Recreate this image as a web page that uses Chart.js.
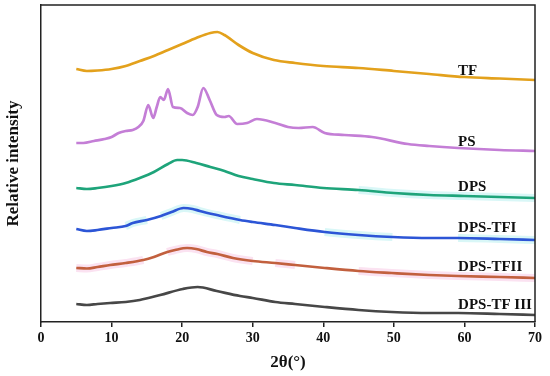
<!DOCTYPE html>
<html>
<head>
<meta charset="utf-8">
<script src="https://cdn.jsdelivr.net/npm/chart.js@4.4.1/dist/chart.umd.min.js"></script>
<style>
  html, body { margin: 0; padding: 0; background: #fff; }
  #wrap { width: 550px; height: 376px; }
</style>
</head>
<body>
<div id="wrap"><canvas id="xrd"></canvas></div>
<script>
// 2θ (deg) and relative intensity (stacked, arbitrary units)
const tfX   = [5, 6.5, 8, 10, 12, 14, 16, 18, 20, 22, 24, 25, 26, 28, 30, 33, 36, 40, 45, 50, 55, 60, 65, 70];
const tfY   = [253, 251, 251.5, 253, 256, 261, 266, 272, 278, 284, 289, 290, 287, 277, 269, 262, 259, 256, 254, 251, 248, 245, 243.5, 242];

const psX   = [5, 6, 7.5, 9, 10, 11, 12, 13, 13.8, 14.5, 15.2, 15.9, 16.4, 16.9, 17.4, 18.0, 18.7, 19.7, 20.7, 21.5, 22.2, 23.0, 23.9, 24.9, 26.0, 26.6, 27.8, 29.2, 30.6, 33.2, 35, 36.5, 38.5, 40.2, 43, 46.9, 52, 55, 59.1, 65, 70];
const psY   = [179, 179, 181, 183, 185, 189, 191, 192, 195, 201, 217, 204, 215, 225, 222, 233, 215, 214, 209, 207, 215, 234, 222, 207, 205, 206, 198, 199, 203, 199, 195, 194, 195, 189, 187, 185, 178, 176, 174, 172, 171];

const dpsX  = [5, 6.5, 8, 10, 12, 14, 16, 18, 19.3, 20, 22, 24, 26, 28, 30, 33, 36, 40, 45, 50, 55, 60, 65, 70];
const dpsY  = [134, 133, 134, 136, 139, 144, 150, 158, 162, 162, 159, 155, 151, 146, 143, 139, 137, 134, 132, 129, 127, 126, 125, 124];

const tf1X  = [5, 6.5, 8, 10, 12, 13, 15, 17, 18.5, 20.2, 21.5, 22.5, 24.9, 28.2, 30, 33.2, 36, 40.2, 45, 49.8, 55, 59.1, 65, 70];
const tf1Y  = [93, 91, 92, 94, 96, 99, 102, 106, 110, 114, 113, 111, 107, 102, 100, 97, 94, 90, 87, 85, 84, 84, 83, 82];

const tf2X  = [5, 6.5, 8, 9.8, 12, 14.5, 16, 17.9, 19, 20.7, 22, 23.5, 25, 27.2, 30, 33.2, 36, 40.2, 45, 49.7, 55, 59.1, 65, 70];
const tf2Y  = [54, 53.5, 55, 57, 59, 62, 65, 70, 72, 74, 73, 70, 68, 64, 61, 59, 57, 54, 51, 49, 47, 46, 45, 44];

const tf3X  = [5, 6.5, 8, 9.8, 12, 14, 16.9, 20.1, 22.2, 24.9, 28.2, 30, 33.2, 36, 40.2, 45, 49.7, 55, 59.1, 65, 70];
const tf3Y  = [18, 17, 18, 19, 20, 22, 27, 33, 35, 31, 26, 24, 20, 18, 15, 12, 10, 9, 9, 8, 7];

const seriesNames = ['TF', 'PS', 'DPS', 'DPS-TFI', 'DPS-TFII', 'DPS-TF III'];
const xTicks = [0, 10, 20, 30, 40, 50, 60, 70];

// label anchors (2θ, intensity) for the curve names
const labelX = [59.1, 59.1, 59.1, 59.1, 59.1, 59.1];
const labelY = [251, 180, 135, 94, 55, 17];

// light highlight bands visible behind some curves
const dpsHalo = [[42, 70]];
const tf1Halo = [[12, 14.5], [16.5, 27], [39, 48], [58, 70]];
const tf2Halo = [[5, 14.5], [17, 28], [33, 35], [44, 70]];

const pts = (xs, ys) => xs.map((x, i) => ({ x: x, y: ys[i] }));
const inRange = (ranges, color) => (ctx) => {
    const x = ctx.p0.parsed.x;
    return ranges.some(r => x >= r[0] && x < r[1]) ? color : 'rgba(255,255,255,0)';
};

const line = (label, data, color) => ({
    label, data, borderColor: color, borderWidth: 2.7,
    pointRadius: 0, cubicInterpolationMode: 'monotone', fill: false, order: 0
});
const halo = (data, color, ranges) => ({
    label: '', data, borderColor: color, borderWidth: 8,
    pointRadius: 0, cubicInterpolationMode: 'monotone', fill: false, order: 5,
    segment: { borderColor: inRange(ranges, color) }
});

const serif = "'Liberation Serif', 'Times New Roman', serif";

const frameAndLabels = {
    id: 'frameAndLabels',
    afterDraw(chart) {
        const { ctx, chartArea: a, scales } = chart;
        ctx.save();
        ctx.strokeStyle = '#222';
        ctx.lineWidth = 1.5;
        ctx.beginPath();
        ctx.moveTo(a.left, a.top);
        ctx.lineTo(a.right, a.top);
        ctx.lineTo(a.right, a.bottom);
        ctx.stroke();

        ctx.fillStyle = '#111';
        ctx.font = 'bold 15px ' + serif;
        ctx.textAlign = 'left';
        ctx.textBaseline = 'middle';
        seriesNames.forEach((name, i) => {
            ctx.fillText(name, scales.x.getPixelForValue(labelX[i]), scales.y.getPixelForValue(labelY[i]));
        });
        ctx.restore();
    }
};

new Chart(document.getElementById('xrd'), {
    type: 'line',
    data: {
        datasets: [
            line(seriesNames[0], pts(tfX, tfY), '#E3A11C'),
            line(seriesNames[1], pts(psX, psY), '#C47ED6'),
            line(seriesNames[2], pts(dpsX, dpsY), '#1EA47A'),
            line(seriesNames[3], pts(tf1X, tf1Y), '#2C55D6'),
            line(seriesNames[4], pts(tf2X, tf2Y), '#C2603E'),
            line(seriesNames[5], pts(tf3X, tf3Y), '#474747'),
            halo(pts(dpsX, dpsY), '#D9F7F7', dpsHalo),
            halo(pts(tf1X, tf1Y), '#D9F7F7', tf1Halo),
            halo(pts(tf2X, tf2Y), '#FBE2F1', tf2Halo)
        ]
    },
    options: {
        responsive: true,
        maintainAspectRatio: false,
        animation: false,
        layout: { padding: { left: 0, right: 15, top: 5, bottom: 0 } },
        plugins: { legend: { display: false }, tooltip: { enabled: false } },
        scales: {
            x: {
                type: 'linear', min: 0, max: 70,
                afterFit: (s) => { s.height = 54; },
                afterBuildTicks: (s) => { s.ticks = xTicks.map(v => ({ value: v })); },
                ticks: { color: '#111', padding: 3, font: { family: serif, size: 14, weight: 'bold' } },
                grid: { drawOnChartArea: false, drawTicks: true, tickLength: 5, color: '#222', lineWidth: 1.5 },
                border: { display: true, color: '#222', width: 1.5 },
                title: { display: true, text: '2θ(°)', color: '#111', padding: { top: 0, bottom: 3 },
                         font: { family: serif, size: 17, weight: 'bold' } }
            },
            y: {
                min: 0, max: 317,
                afterFit: (s) => { s.width = 41; },
                ticks: { display: false },
                grid: { display: false },
                border: { display: true, color: '#222', width: 1.5 },
                title: { display: true, text: 'Relative intensity', color: '#111', padding: { top: 3, bottom: 0 },
                         font: { family: serif, size: 17, weight: 'bold' } }
            }
        }
    },
    plugins: [frameAndLabels]
});
</script>
</body>
</html>
